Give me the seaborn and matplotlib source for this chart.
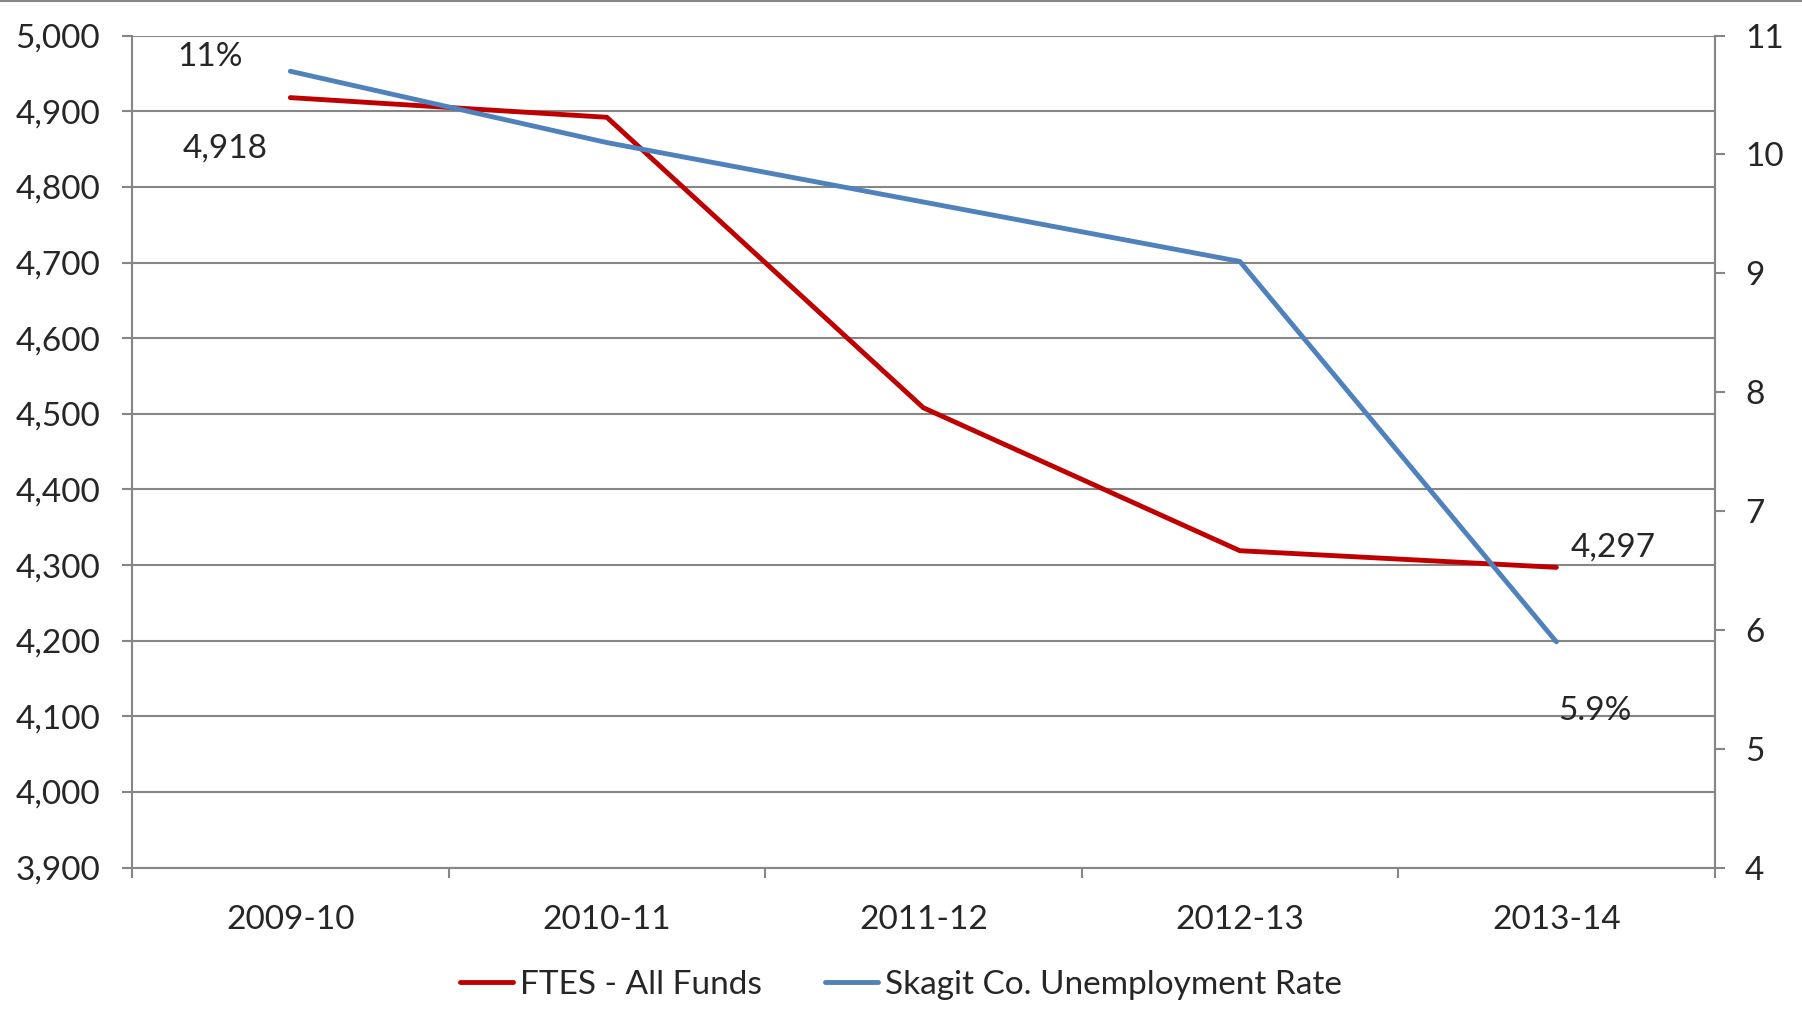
import numpy as np
import pandas as pd
import seaborn as sns
import matplotlib.pyplot as plt
from matplotlib.lines import Line2D

# Données
years = ["2009-10", "2010-11", "2011-12", "2012-13", "2013-14"]
ftes = [4918, 4892, 4508, 4319, 4297]
unemployment = [10.7, 10.1, 9.6, 9.1, 5.9]

red = "#C00000"
blue = "#4F81BD"
grid_gray = "#868686"

sns.set_theme(style="white")
plt.rcParams['font.family'] = ['Lato', 'DejaVu Sans']

df = pd.DataFrame({"year": years, "idx": np.arange(len(years)),
                   "ftes": ftes, "unemp": unemployment})

fig = plt.figure(figsize=(18.02, 10.29), dpi=100)
ax = fig.add_axes([0.0733, 0.1568, 0.8782, 0.8086])
ax2 = ax.twinx()

sns.lineplot(data=df, x="idx", y="ftes", ax=ax, color=red, linewidth=3.5,
             legend=False, zorder=3)
sns.lineplot(data=df, x="idx", y="unemp", ax=ax2, color=blue, linewidth=3.5,
             legend=False)

# Axes
ax.set_xlim(-0.5, len(years) - 0.5)
ax.set_ylim(3900, 5000)
ax.set_yticks(np.arange(3900, 5001, 100))
ax.set_yticklabels([f"{v:,}" for v in range(3900, 5001, 100)])
ax2.set_ylim(4, 11)
ax2.set_yticks(range(4, 12))

ax.set_xticks(np.arange(len(years)))
ax.set_xticklabels(years)
ax.set_xticks(np.arange(-0.5, len(years)), minor=True)
ax.tick_params(axis="x", which="major", bottom=False, pad=21, labelsize=24)
ax.tick_params(axis="x", which="minor", bottom=True, length=7, width=1.5,
               color=grid_gray, direction="out")
ax.tick_params(axis="y", left=True, length=7, width=1.5, color=grid_gray,
               labelsize=24, pad=16, direction="out")
ax2.tick_params(axis="y", right=True, length=7, width=1.5, color=grid_gray,
                labelsize=24, pad=15, direction="out")
ax.set_xlabel("")
ax.set_ylabel("")
ax2.set_ylabel("")

ax.grid(axis="y", color=grid_gray, linewidth=1.5)
ax.set_axisbelow(True)
for a in (ax, ax2):
    for side, sp in a.spines.items():
        sp.set_color(grid_gray)
        sp.set_linewidth(1.5)
    a.spines["top"].set_visible(False)
ax2.spines["left"].set_visible(False)
ax2.spines["bottom"].set_visible(False)

# Étiquettes de données
lab = dict(fontsize=24, ha="center", va="center", textcoords="offset points")
ax2.annotate("11%", (0, unemployment[0]), xytext=(-58, 10), **lab)
ax.annotate(f"{ftes[0]:,}", (0, ftes[0]), xytext=(-47, -37), **lab)
ax.annotate(f"{ftes[-1]:,}", (4, ftes[-1]), xytext=(41, 14), **lab)
ax2.annotate("5.9%", (4, unemployment[-1]), xytext=(28, -50), **lab)

# Légende
handles = [Line2D([0], [0], color=red, linewidth=3.5),
           Line2D([0], [0], color=blue, linewidth=3.5)]
fig.legend(handles, ["FTES - All Funds", "Skagit Co. Unemployment Rate"],
           loc="center", bbox_to_anchor=(0.5, 0.043), ncol=2, frameon=False,
           fontsize=24, handlelength=1.6, handletextpad=0.2, columnspacing=1.9)

# Bordure du haut
fig.add_artist(Line2D([0, 1], [0.999, 0.999], transform=fig.transFigure,
                      color=grid_gray, linewidth=1.5))

fig.savefig("out.png", dpi=100)
